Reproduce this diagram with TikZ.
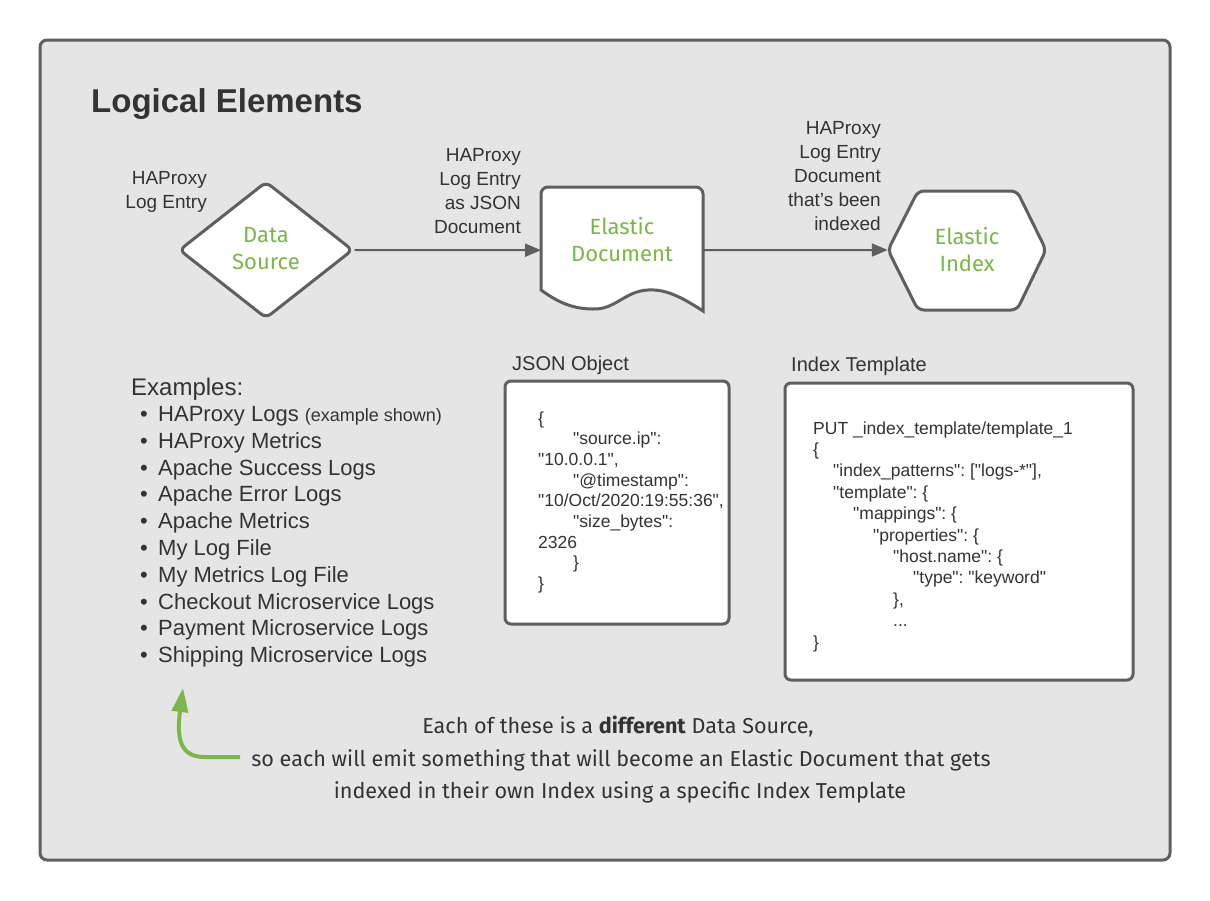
\documentclass[tikz,border=0pt]{standalone}
\usepackage{fontspec}
\setmainfont{Liberation Sans}
\setmonofont{Liberation Sans}
\newfontfamily\hand{Fira Sans}
\usetikzlibrary{arrows.meta,shapes.geometric}
\definecolor{bgc}{HTML}{E5E5E5}
\definecolor{edgec}{HTML}{5F5F5F}
\definecolor{txtc}{HTML}{333333}
\definecolor{lgreen}{HTML}{7AB648}
\tikzset{
  frame/.style={draw=edgec, line width=3pt, fill=bgc, rounded corners=7pt},
  shapebox/.style={draw=edgec, line width=3pt, fill=white, rounded corners=6pt},
  conn/.style={draw=edgec, line width=2pt, -{Triangle[length=16pt,width=13pt]}},
  lbl/.style={text=txtc, inner sep=0pt, align=right, font=\fontsize{19}{24}\selectfont},
  green label/.style={text=lgreen, inner sep=0pt, align=center, font=\hand\fontsize{22}{27}\selectfont},
  codeline/.style={text=txtc, inner sep=0pt, anchor=base west, font=\ttfamily\fontsize{17.5}{21}\selectfont},
  listline/.style={text=txtc, inner sep=0pt, anchor=base west, font=\fontsize{22}{26}\selectfont},
  handline/.style={text=txtc, inner sep=0pt, anchor=base, font=\hand\fontsize{21.6}{26}\selectfont},
  ghost/.style={inner sep=0pt, draw=none}
}
\begin{document}
\begin{tikzpicture}[x=1pt,y=-1pt]
\useasboundingbox (0,0) rectangle (1210,900);
\fill[white] (0,0) rectangle (1210,900);
\draw[frame] (40,40) rectangle (1170,860);

\node[text=txtc, inner sep=0pt, anchor=base west, font=\bfseries\fontsize{33}{40}\selectfont] (title) at (91,112) {Logical Elements};

% Data source diamond
\node[diamond, shapebox, minimum width=174pt, minimum height=137pt, inner sep=0pt] (src) at (266,250) {};
\node[green label] (srctext) at (266,249) {Data\\Source};

% Elastic document
\node[ghost, minimum width=162pt, minimum height=126pt, anchor=north west] (doc) at (541,187) {};
\draw[shapebox, rounded corners=0pt]
  (703,311) .. controls (680,296) and (665,289) .. (648,290)
  .. controls (625,291) and (615,310) .. (593,309)
  .. controls (570,309) and (555,300) .. (541,290)
  [rounded corners=7pt] -- (541,187) -- (703,187) [rounded corners=0pt] -- cycle;
\node[green label] (doctext) at (622,240) {Elastic\\Document};

% Elastic index hexagon
\node[ghost, minimum width=158pt, minimum height=119pt] (idx) at (967,250) {};
\draw[shapebox] (888,250) -- (918,191) -- (1017,191) -- (1046,250) -- (1017,310) -- (918,310) -- cycle;
\node[green label] (idxtext) at (967,250) {Elastic\\Index};

% connectors
\draw[conn] (src.east) -- (doc.west);
\draw[conn] (doc.east) -- (idx.west);

% labels
\node[lbl, anchor=east] (l1) at (207,192) {HAProxy\\Log Entry};
\node[lbl, anchor=east] (l2) at (521,191) {HAProxy\\Log Entry\\as JSON\\Document};
\node[lbl, anchor=east] (l3) at (881,176) {HAProxy\\Log Entry\\Document\\that's been\\indexed};

% Examples list
\node[listline, font=\fontsize{24}{28}\selectfont] (ex) at (131,395) {Examples:};
\foreach \t [count=\i from 0] in {{HAProxy Logs {\fontsize{18}{20}\selectfont(example shown)}}, HAProxy Metrics, Apache Success Logs, Apache Error Logs, Apache Metrics, My Log File, My Metrics Log File, Checkout Microservice Logs, Payment Microservice Logs, Shipping Microservice Logs}{
  \node[listline] (b\i) at (140,421.5+26.8*\i) {\textbullet};
  \node[listline] (e\i) at (158,421.5+26.8*\i) {\t};
}

% JSON object
\node[text=txtc, inner sep=0pt, anchor=base west, font=\fontsize{20}{24}\selectfont] (jsonh) at (512,370) {JSON Object};
\draw[shapebox] (505,381) rectangle (729,624);
\node[codeline] (j0) at (538,424) {\{};
\node[codeline] (j1) at (573,444.7) {"source.ip":};
\node[codeline] (j2) at (538,465.4) {"10.0.0.1",};
\node[codeline] (j3) at (573,486.1) {"@timestamp":};
\node[codeline] (j4) at (538,506.8) {"10/Oct/2020:19:55:36",};
\node[codeline] (j5) at (573,527.5) {"size\_bytes":};
\node[codeline] (j6) at (538,548.2) {2326};
\node[codeline] (j7) at (573,568.9) {\}};
\node[codeline] (j8) at (538,589.6) {\}};

% Index template
\node[text=txtc, inner sep=0pt, anchor=base west, font=\fontsize{20}{24}\selectfont] (tplh) at (791,371) {Index Template};
\draw[shapebox] (785,383) rectangle (1133,680);
\node[codeline] (t0) at (813,434) {PUT \_index\_template/template\_1};
\node[codeline] (t1) at (813,455.4) {\{};
\node[codeline] (t2) at (833,476.8) {"index\_patterns": ["logs-*"],};
\node[codeline] (t3) at (833,498.2) {"template": \{};
\node[codeline] (t4) at (853,519.6) {"mappings": \{};
\node[codeline] (t5) at (873,541) {"properties": \{};
\node[codeline] (t6) at (893,562.4) {"host.name": \{};
\node[codeline] (t7) at (913,583.8) {"type": "keyword"};
\node[codeline] (t8) at (893,605.2) {\},};
\node[codeline] (t9) at (893,626.6) {...};
\node[codeline] (t10) at (813,648) {\}};

% bottom note
\node[handline] (n1) at (618,733) {Each of these is a \textbf{different} Data Source,};
\node[handline] (n2) at (621,766) {so each will emit something that will become an Elastic Document that gets};
\node[handline] (n3) at (620,798) {indexed in their own Index using a specific Index Template};

% green arrow
\coordinate (ga) at (240,757);
\coordinate (gb) at (205,757);
\coordinate (gtip) at (183,688);
\draw[lgreen, line width=4pt, -{Triangle[length=24pt,width=16pt]}] (ga) -- (gb) .. controls (182,757) and (176,742) .. (gtip);
\end{tikzpicture}
\end{document}
